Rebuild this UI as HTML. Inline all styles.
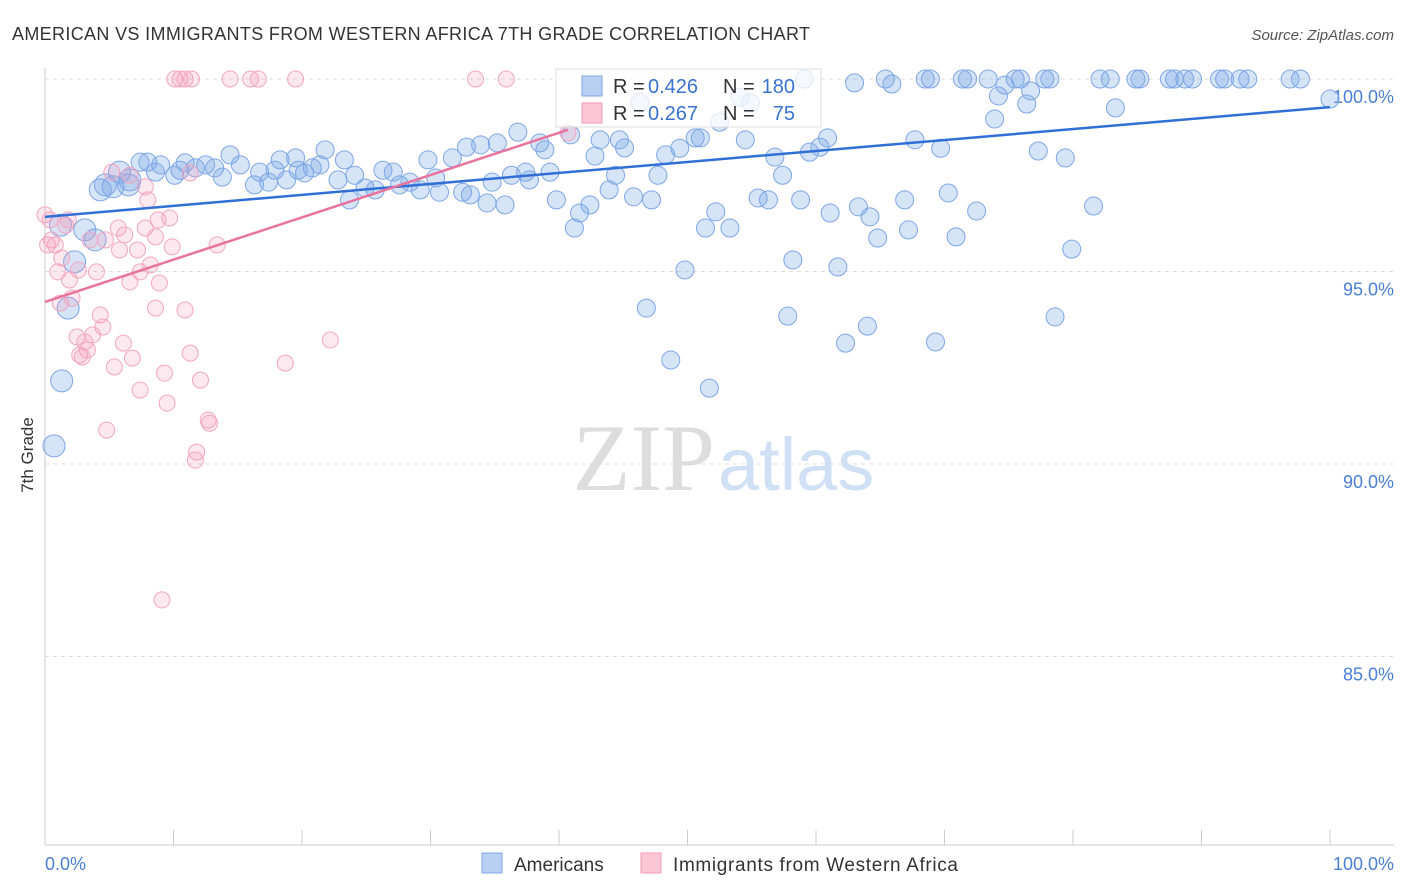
<!DOCTYPE html>
<html><head><meta charset="utf-8"><style>
body{margin:0;background:#fff;font-family:"Liberation Sans",sans-serif;}
svg{display:block}
</style></head><body>
<svg id="chart" width="1406" height="892">
<text x="12" y="40" font-size="18" fill="#333" textLength="798">AMERICAN VS IMMIGRANTS FROM WESTERN AFRICA 7TH GRADE CORRELATION CHART</text>
<text x="1394" y="40" font-size="15" fill="#555" font-style="italic" text-anchor="end">Source: ZipAtlas.com</text>
<text x="33" y="455" font-size="17" fill="#333" transform="rotate(-90 33 455)" text-anchor="middle">7th Grade</text>
<g id="grid"></g>
<text x="715" y="490" font-size="95" fill="#ddd" text-anchor="end" font-family="Liberation Serif,serif">ZIP</text>
<text x="718" y="490" font-size="74" fill="#cfe0f5">atlas</text>
<g id="pts"></g>
<g id="lines"></g>
<g>
<rect x="556" y="69" width="265" height="58" fill="rgba(255,255,255,0.75)" stroke="#ddd"/>
<rect x="582" y="76" width="20" height="20" fill="#b8d0f2" stroke="#7da6e6"/>
<rect x="582" y="103" width="20" height="20" fill="#fcc6d6" stroke="#f09ab6"/>
<text x="613" y="93" font-size="20" fill="#333">R =</text>
<text x="648" y="93" font-size="20" fill="#3a72d0">0.426</text>
<text x="723" y="93" font-size="20" fill="#333">N =</text>
<text x="795" y="93" font-size="20" fill="#3a72d0" text-anchor="end">180</text>
<text x="613" y="120" font-size="20" fill="#333">R =</text>
<text x="648" y="120" font-size="20" fill="#3a72d0">0.267</text>
<text x="723" y="120" font-size="20" fill="#333">N =</text>
<text x="795" y="120" font-size="20" fill="#3a72d0" text-anchor="end">75</text>
</g>
<g>
<rect x="482" y="853" width="20" height="20" fill="#b8d0f2" stroke="#7da6e6"/>
<text x="514" y="871" font-size="19" fill="#333">Americans</text>
<rect x="641" y="853" width="20" height="20" fill="#fcc6d6" stroke="#f09ab6"/>
<text x="673" y="871" font-size="19" fill="#333" textLength="285">Immigrants from Western Africa</text>
</g>
<text x="45" y="870" font-size="18" fill="#4a7fd4">0.0%</text>
<text x="1394" y="870" font-size="18" fill="#4a7fd4" text-anchor="end">100.0%</text>
</svg>
<script>
const yTicks=[100,95,90,85];
const yTickLabels=["100.0%","95.0%","90.0%","85.0%"];
const blueX=[59.1,63.0,65.4,65.9,68.5,68.9,71.4,71.8,73.4,74.7,75.5,75.9,77.8,78.2,82.1,82.9,84.9,85.2,87.5,87.9,88.7,89.3,91.4,91.8,93.0,93.6,96.9,97.7,100,74.2,76.7,76.4,83.3,73.9,52.5,54.9,54.1,46.3,36.8,40.9,43.2,44.7,45.1,42.8,48.3,49.4,50.6,51.0,54.5,56.8,59.5,60.3,60.9,67.7,69.7,77.3,79.4,38.5,38.9,35.2,33.9,32.8,31.7,29.8,23.3,21.8,19.5,18.3,14.4,12.5,10.9,9.0,7.4,8.0,5.8,6.6,5.3,4.3,4.7,6.5,8.6,10.1,10.5,11.7,13.2,13.8,15.2,16.3,16.7,17.4,17.9,18.8,19.7,20.2,20.8,21.4,22.8,24.1,24.9,23.7,25.7,26.3,27.1,27.6,28.4,29.2,30.4,30.7,32.5,33.1,34.4,34.8,35.8,36.3,37.4,37.7,39.3,39.8,41.2,41.6,42.4,43.9,44.4,45.8,47.2,47.7,51.4,52.2,53.3,55.5,56.3,57.4,58.8,61.1,63.3,64.2,64.8,66.9,67.2,70.3,70.9,72.5,79.9,81.6,49.8,58.2,61.7,46.8,57.8,64.0,62.3,69.3,78.6,48.7,51.7,1.8,1.3,0.7,2.3,3.1,3.9,1.2];
const blueY=[100,99.9,100,99.87,100,100,100,100,100,99.84,100,100,100,100,100,100,100,100,100,100,100,100,100,100,100,100,100,100,99.48,99.56,99.69,99.35,99.25,98.96,98.88,99.38,99.53,99.4,98.62,98.55,98.42,98.42,98.21,98.0,98.03,98.2,98.47,98.47,98.42,97.97,98.1,98.23,98.47,98.42,98.2,98.13,97.95,98.34,98.16,98.34,98.29,98.23,97.95,97.9,97.9,98.16,97.95,97.9,98.03,97.77,97.82,97.77,97.84,97.84,97.58,97.38,97.2,97.12,97.25,97.25,97.58,97.5,97.63,97.69,97.69,97.45,97.77,97.25,97.58,97.32,97.63,97.38,97.63,97.56,97.69,97.77,97.38,97.5,97.17,96.86,97.12,97.63,97.58,97.25,97.32,97.12,97.43,97.06,97.06,96.99,96.78,97.32,96.73,97.5,97.58,97.38,97.58,96.86,96.13,96.52,96.73,97.12,97.5,96.94,96.86,97.5,96.13,96.55,96.13,96.91,96.86,97.5,96.86,96.52,96.68,96.42,95.87,96.86,96.08,97.04,95.9,96.57,95.58,96.7,95.04,95.3,95.12,94.05,93.84,93.58,93.14,93.17,93.82,92.7,91.97,94.05,92.16,90.47,95.25,96.08,95.82,96.2];
const pinkX=[10.1,10.5,10.9,11.4,14.4,16.0,16.6,19.5,33.5,35.9,40.7,0,0.4,0.5,0.2,0.8,1.6,1.8,1.0,1.3,1.9,1.2,2.1,2.6,3.5,4.0,4.3,4.5,3.7,2.5,3.1,3.3,2.7,2.9,5.2,5.4,6.1,6.8,4.8,7.4,9.3,9.5,8.6,8.9,8.2,7.4,6.6,5.7,6.2,5.8,7.2,7.8,8.6,8.8,9.7,9.9,10.9,11.3,12.1,12.7,12.8,11.8,11.7,9.1,18.7,22.2,13.4,8.0,7.8,6.6,11.3,4.7];
const pinkY=[100,100,100,100,100,100,100,100,100,100,98.6,96.47,96.34,95.82,95.69,95.69,96.2,96.34,94.99,95.35,94.78,94.18,94.31,95.04,95.82,94.99,93.87,93.56,93.35,93.3,93.17,92.96,92.83,92.78,97.58,92.52,93.14,92.75,90.88,91.92,92.36,91.58,94.05,94.7,95.17,94.99,94.73,96.13,95.95,95.56,95.56,96.13,95.9,96.34,96.39,95.64,94.0,92.88,92.18,91.14,91.06,90.31,90.1,86.47,92.62,93.22,95.69,96.86,97.2,97.5,97.56,95.82];
const blueTrend=[96.42,99.27];
const pinkTrend=[94.21,98.68,40.7];
const NS='http://www.w3.org/2000/svg';
const X0=45,X1=1330,Y100=79,PXPER=38.5;
const sx=v=>X0+(X1-X0)*v/100;
const sy=v=>Y100+(100-v)*PXPER;
function mk(tag,attrs,parent){const e=document.createElementNS(NS,tag);for(const k in attrs)e.setAttribute(k,attrs[k]);parent.appendChild(e);return e;}
const grid=document.getElementById('grid');
mk('line',{x1:X0,y1:68,x2:X0,y2:845,stroke:'#ccc'},grid);
const ax=mk('line',{x1:X0,y1:845,x2:1394,y2:845,stroke:'#ccc'},grid);


for(let i=0;i<=10;i++){const t=mk('line',{x1:sx(i*10),y1:830,x2:sx(i*10),y2:845,stroke:'#ccc'},grid);

}
yTicks.forEach((v,i)=>{const g=mk('line',{x1:X0,y1:sy(v),x2:1394,y2:sy(v),stroke:'#ddd','stroke-dasharray':'4,4'},grid);


const t=mk('text',{x:1394,y:sy(v)+24,'font-size':18,fill:'#4a7fd4','text-anchor':'end'},grid);t.textContent=yTickLabels[i];

});
const pts=document.getElementById('pts');
blueX.forEach((x,i)=>{const r=(x<5&&i>140)||(x<7&&blueY[i]>97)?11:9;const c=mk('circle',{cx:sx(x),cy:sy(blueY[i]),r:r,fill:'rgba(120,165,230,0.3)',stroke:'#7da6e6','stroke-width':1},pts);

});
pinkX.forEach((x,i)=>{const c=mk('circle',{cx:sx(x),cy:sy(pinkY[i]),r:8,fill:'rgba(245,150,180,0.22)',stroke:'#f2a6c0','stroke-width':1},pts);

});
const lines=document.getElementById('lines');
const bl=mk('line',{x1:sx(0),y1:sy(blueTrend[0]),x2:sx(100),y2:sy(blueTrend[1]),stroke:'#2f6fd6','stroke-width':2.5},lines);


const pl=mk('line',{x1:sx(0),y1:sy(pinkTrend[0]),x2:sx(pinkTrend[2]),y2:sy(pinkTrend[1]),stroke:'#e8739c','stroke-width':2.5},lines);


</script>
</body></html>
